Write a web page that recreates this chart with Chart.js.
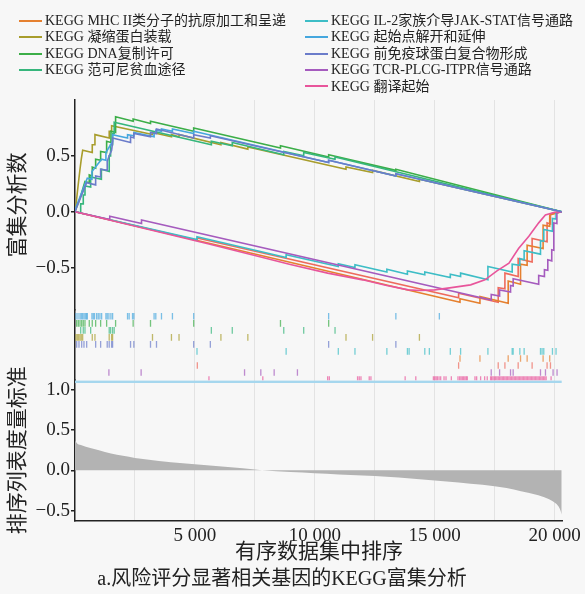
<!DOCTYPE html>
<html>
<head>
<meta charset="utf-8" />
<title>KEGG GSEA</title>
<script src="https://cdn.jsdelivr.net/npm/chart.js@4.4.1/dist/chart.umd.min.js"></script>
<style>
  body { margin: 0; background: #f7f7f7; }
  #wrap { position: relative; width: 585px; height: 594px; }
  #legend {
    position: absolute; left: 0; top: 0; width: 585px; height: 100px;
    font-family: 'Liberation Serif', 'Noto Sans CJK SC', serif;
    font-size: 14px; color: #222;
  }
  .item { position: absolute; white-space: nowrap; line-height: 16px; }
  .item i {
    display: inline-block; width: 23px; height: 0; border-top: 2px solid;
    vertical-align: middle; margin-right: 3px; margin-top: -2px;
  }
</style>
</head>
<body>
<div id="wrap">
  <canvas id="gsea" width="585" height="594"></canvas>
  <div id="legend"></div>
</div>

<script>
// gene sets, in legend order (left column first)
var setNames = [
  "KEGG MHC II类分子的抗原加工和呈递",
  "KEGG 凝缩蛋白装载",
  "KEGG DNA复制许可",
  "KEGG 范可尼贫血途径",
  "KEGG IL-2家族介导JAK-STAT信号通路",
  "KEGG 起始点解开和延伸",
  "KEGG 前免疫球蛋白复合物形成",
  "KEGG TCR-PLCG-ITPR信号通路",
  "KEGG 翻译起始"
];
var setColors = ["#e5802f", "#a89d2c", "#3cae48", "#36b67c", "#3dbdc6",
                 "#45a7de", "#6b7cca", "#a55bbe", "#e8559b"];
// one more curve is drawn in the figure but has no legend entry
var extraColor = "#ee6a5c";

// running enrichment score, [rank, ES]
var esMhc = [[0,0],[16058,-0.81],[16058,-0.78],[16890,-0.82],[16890,-0.76],[18068,-0.82],[18068,-0.62],
  [18583,-0.65],[18583,-0.47],[18858,-0.48],[18858,-0.3],[19524,-0.33],[19524,-0.12],[19800,-0.13],
  [19800,-0.03],[20300,0]];
var esCondensin = [[0,0],[42,0.06],[96,0.17],[154,0.28],[208,0.38],[262,0.47],[320,0.55],[720,0.53],
  [720,0.6],[832,0.6],[832,0.69],[1427,0.66],[1427,0.72],[1527,0.72],[1527,0.77],[3232,0.69],[3232,0.71],
  [4023,0.67],[4023,0.69],[4339,0.67],[4339,0.69],[6086,0.6],[6086,0.62],[7209,0.56],[7209,0.58],
  [11303,0.38],[11303,0.4],[12412,0.35],[12412,0.37],[14365,0.27],[14365,0.29],[20300,0]];
var esDna = [[0,0],[70,0.04],[139,0.08],[208,0.12],[279,0.17],[345,0.22],[416,0.27],[595,0.26],[595,0.33],
  [720,0.32],[720,0.4],[861,0.39],[861,0.47],[1069,0.46],[1069,0.54],[1319,0.53],[1319,0.63],[1500,0.62],
  [1500,0.72],[1693,0.71],[1693,0.85],[2425,0.81],[2425,0.83],[3149,0.79],[3149,0.81],[4950,0.72],
  [4950,0.75],[8570,0.57],[8570,0.59],[10580,0.49],[10580,0.51],[13380,0.37],[13380,0.38],[20300,0]];
var esFanconi = [[0,0],[237,-0.01],[237,0.07],[345,0.07],[345,0.15],[416,0.15],[416,0.23],[653,0.22],
  [653,0.31],[1100,0.29],[1100,0.38],[1427,0.36],[1427,0.5],[1485,0.5],[1485,0.6],[1568,0.6],[1568,0.7],
  [1635,0.7],[1635,0.8],[5687,0.6],[5687,0.63],[6560,0.59],[6560,0.62],[8707,0.51],[8707,0.54],
  [9539,0.5],[9539,0.53],[10846,0.47],[10846,0.49],[20300,0]];
var esIl2 = [[0,0],[5088,-0.25],[5088,-0.225],[8806,-0.41],[8806,-0.385],[10982,-0.49],[10982,-0.465],
  [11677,-0.5],[11677,-0.475],[13008,-0.54],[13008,-0.515],[13865,-0.56],[13865,-0.53],[14589,-0.565],
  [14589,-0.54],[15654,-0.59],[15654,-0.56],[16083,-0.58],[16083,-0.55],[17222,-0.61],[17222,-0.49],
  [18234,-0.54],[18234,-0.47],[18554,-0.48],[18554,-0.42],[18733,-0.43],[18733,-0.35],[19415,-0.38],
  [19415,-0.26],[19552,-0.265],[19552,-0.16],[19914,-0.175],[19914,-0.06],[20064,-0.065],[20064,-0.01],
  [20300,0]];
var esOrigin = [[0,0],[42,0.04],[512,0.3],[707,0.29],[707,0.36],[1111,0.47],[1290,0.46],[1290,0.53],
  [1568,0.63],[1568,0.69],[2192,0.66],[2192,0.69],[2454,0.68],[2454,0.71],[3299,0.67],[3299,0.7],
  [3370,0.7],[3370,0.73],[3607,0.72],[3607,0.74],[4064,0.72],[4064,0.74],[4950,0.7],[4950,0.72],
  [10579,0.44],[10579,0.46],[13383,0.32],[13383,0.34],[15197,0.25],[20300,0]];
var esPreBcr = [[0,0],[70,0.04],[166,0.09],[279,0.15],[374,0.2],[487,0.26],[861,0.24],[861,0.32],
  [1069,0.31],[1069,0.38],[1344,0.37],[1344,0.45],[1427,0.5],[1527,0.55],[1568,0.62],[1568,0.66],
  [2317,0.62],[2317,0.67],[2454,0.66],[2454,0.7],[3149,0.67],[3149,0.71],[3399,0.7],[3399,0.74],
  [4950,0.66],[4950,0.69],[5645,0.66],[5645,0.68],[10579,0.44],[10579,0.46],[13383,0.32],[13383,0.34],
  [20300,0]];
var esTcr = [[0,0],[1450,-0.07],[1450,-0.04],[2775,-0.105],[2775,-0.075],[17360,-0.79],[17360,-0.74],
  [17709,-0.755],[17709,-0.7],[18166,-0.72],[18166,-0.66],[18275,-0.665],[18275,-0.6],[19340,-0.65],
  [19340,-0.57],[19580,-0.58],[19580,-0.52],[19720,-0.525],[19720,-0.43],[19885,-0.44],[19885,-0.34],
  [19970,-0.345],[19970,-0.1],[20100,-0.105],[20100,-0.01],[20300,0]];
var esTransl = [[0,0],[5587,-0.29],[7833,-0.41],[8940,-0.47],[10538,-0.55],[12000,-0.61],[13000,-0.66],
  [13900,-0.7],[14400,-0.705],[15000,-0.7],[15700,-0.68],[16500,-0.655],[17100,-0.61],[17600,-0.53],
  [18100,-0.46],[18500,-0.33],[18930,-0.22],[19340,-0.1],[19620,-0.03],[20000,-0.005],[20300,0]];
var esExtra = [[0,0],[5102,-0.255],[5102,-0.235],[16000,-0.77],[16000,-0.73],[17652,-0.81],[17652,-0.68],
  [17931,-0.69],[17931,-0.55],[18484,-0.58],[18484,-0.42],[19066,-0.45],[19066,-0.24],[19690,-0.27],
  [19690,-0.1],[19831,-0.11],[19831,-0.02],[20300,0]];

// ranks of the genes of each set (hit marks)
var hitsMhc = [16058,16890,18068,18583,18858,19524,19800];
var hitsCondensin = [42,96,154,208,262,320,720,832,1427,1527,1568,3232,4023,4339,6086,7209,11303,12412,14365];
var hitsDna = [70,139,208,279,345,416,595,720,861,1069,1319,1693,2425,3149,4950,8570,10580];
var hitsFanconi = [237,345,416,653,1427,1485,1568,1635,5687,6560,8707,9539,10846];
var hitsIl2 = [5088,8806,10982,11677,13008,13865,13936,14589,14780,15654,16083,17222,18234,18275,18554,
  18733,19415,19481,19552,19914,20064];
var hitsOrigin = [42,125,208,262,316,374,428,482,512,707,761,815,903,969,1040,1111,1290,1344,1414,1498,1568,
  2192,2259,2400,2454,3299,3370,3607,4064,4950,10579,13383,15197];
var hitsPreBcr = [70,166,279,374,487,861,1069,1344,1427,1527,1568,2317,2454,3149,3399,4950,5645,10579,13383];
var hitsTcr = [1414,2758,7072,7750,8307,9277,17360,17709,18166,18275,19415,19623,19940,20106];
var hitsTransl = [5587,7833,10538,10608,11786,11856,11927,12272,12343,13770,14214,14948,15003,15059,15114,
  15184,15253,15392,15475,15696,15974,16043,16099,16154,16210,16265,16320,16362,16682,16752,16918,17085,
  17194,17334,17376,17432,17488,17543,17598,17654,17709,17765,17820,17876,17931,17987,18042,18098,18153,
  18209,18264,18320,18375,18431,18486,18542,18597,18652,18708,18763,18819,18874,18930,18985,19041,19096,
  19152,19207,19263,19318,19374,19429,19485,19540,19596,19651,19857];
var hitsExtra = [5102,16000,17652,17931,18484,19066,19690,19831];

// which strip row each set's hits sit in (0 = top)
var hitRow = [6, 3, 1, 2, 5, 0, 4, 8, 9];
var extraRow = 7;

// ranked list metric, [rank, value]
var rankMetric = [[0,0.37],[100,0.33],[300,0.31],[600,0.28],[1000,0.25],[1500,0.21],[2000,0.18],
  [2500,0.155],[3000,0.135],[4000,0.1],[5000,0.075],[6000,0.05],[7000,0.025],[7800,0],[9000,-0.02],
  [10000,-0.035],[11000,-0.05],[12000,-0.065],[13000,-0.08],[14000,-0.1],[15000,-0.125],[16000,-0.15],
  [17000,-0.18],[18000,-0.22],[18600,-0.26],[19200,-0.3],[19700,-0.35],[20000,-0.4],[20170,-0.45],
  [20250,-0.5],[20300,-0.55]];
var baseBand = [[0,1.1],[20300,1.1]];

var xTicks = [2500,5000,7500,10000,12500,15000,17500,20000];
var esTicks = [-0.5, 0, 0.5];
var rankTicks = [-0.5, 0, 0.5, 1.0];

var esSeries = [esMhc, esCondensin, esDna, esFanconi, esIl2, esOrigin, esPreBcr, esTcr, esTransl];
var hitSeries = [hitsMhc, hitsCondensin, hitsDna, hitsFanconi, hitsIl2, hitsOrigin, hitsPreBcr, hitsTcr, hitsTransl];

var fontFam = "'Liberation Serif', 'Noto Sans CJK SC', serif";

function pts(arr) {
  return arr.map(function (p) { return { x: p[0], y: p[1] }; });
}
function hitPts(ranks, row) {
  return ranks.map(function (r) { return { x: r, y: row }; });
}
function fade(hex, a) {
  var n = parseInt(hex.slice(1), 16);
  return "rgba(" + (n >> 16) + "," + ((n >> 8) & 255) + "," + (n & 255) + "," + a + ")";
}
function fmtNum(v) {
  return v.toFixed(1).replace("-", "\u2212");
}

var datasets = [];

// ranked metric area
datasets.push({
  type: "line", data: pts(rankMetric), yAxisID: "rank", fill: "origin",
  backgroundColor: "#b3b3b3", borderWidth: 0, pointRadius: 0,
  cubicInterpolationMode: "monotone", order: 100
});
datasets.push({
  type: "line", data: pts(baseBand), yAxisID: "rank",
  borderColor: "#a6d7ee", borderWidth: 2.5, pointRadius: 0, order: 90
});

// hit marks
function addHits(ranks, row, color) {
  datasets.push({
    type: "scatter", data: hitPts(ranks, row), yAxisID: "hits",
    pointStyle: "line", rotation: 90, pointRadius: 3.3,
    borderColor: fade(color, 0.7), borderWidth: 1.3, order: 60
  });
}
hitSeries.forEach(function (h, i) { addHits(h, hitRow[i], setColors[i]); });
addHits(hitsExtra, extraRow, extraColor);

// enrichment score curves
function addCurve(arr, color, ord) {
  datasets.push({
    type: "line", data: pts(arr), yAxisID: "es",
    borderColor: color, borderWidth: 1.6, pointRadius: 0, fill: false, order: ord
  });
}
addCurve(esExtra, extraColor, 20);
esSeries.forEach(function (s, i) { addCurve(s, setColors[i], 19 - i); });
datasets[datasets.length - 3].order = 0; // 前免疫球蛋白 line on top

Chart.defaults.font.family = fontFam;
Chart.defaults.color = "#222";

var tickFont = { size: 19, family: fontFam };
var yTitle = function (txt) {
  return { display: true, text: txt, color: "#222",
           font: { size: 21, family: fontFam }, padding: { top: 6, bottom: 0 } };
};
var yGrid = { drawOnChartArea: false, drawTicks: true, tickLength: 4, color: "#222", lineWidth: 1.5 };
var yBorder = { display: true, color: "#222", width: 1.5 };
function fixWidth(s) { s.width = 75; }

new Chart(document.getElementById("gsea"), {
  type: "line",
  data: { datasets: datasets },
  options: {
    responsive: false,
    animation: false,
    events: [],
    layout: { padding: { left: 0, right: 21, top: 100, bottom: 0 } },
    plugins: {
      legend: { display: false },
      tooltip: { enabled: false },
      title: {
        display: true, position: "bottom",
        text: "a.风险评分显著相关基因的KEGG富集分析",
        color: "#222", font: { size: 20, weight: "normal", family: fontFam },
        padding: { top: 0, bottom: 2 }
      }
    },
    scales: {
      x: {
        type: "linear", min: 0, max: 20350,
        afterBuildTicks: function (s) { s.ticks = xTicks.map(function (v) { return { value: v }; }); },
        afterFit: function (s) { s.height = 47.5; },
        ticks: {
          font: tickFont, color: "#222", padding: 4, maxRotation: 0, autoSkip: false,
          callback: function (v) {
            return v % 5000 === 0 ? String(v).replace(/\B(?=(\d{3})+(?!\d))/g, " ") : "";
          }
        },
        grid: { color: "#e3e3e3", lineWidth: 1, drawTicks: false },
        border: { display: true, color: "#222", width: 1.5 },
        title: { display: true, text: "有序数据集中排序", color: "#222",
                 font: { size: 21, family: fontFam }, padding: { top: 0, bottom: 3 } }
      },
      es: {
        type: "linear", position: "left", stack: "gsea", stackWeight: 210.6, weight: 3,
        min: -0.88, max: 1.0,
        afterBuildTicks: function (s) { s.ticks = esTicks.map(function (v) { return { value: v }; }); },
        afterFit: fixWidth,
        ticks: { font: tickFont, color: "#222", padding: 1, callback: fmtNum },
        grid: yGrid, border: yBorder,
        title: yTitle("富集分析数")
      },
      hits: {
        type: "linear", position: "left", stack: "gsea", stackWeight: 70.4, weight: 2,
        min: -0.9, max: 9.1, reverse: true,
        afterFit: fixWidth,
        ticks: { display: false },
        grid: { display: false },
        border: yBorder
      },
      rank: {
        type: "linear", position: "left", stack: "gsea", stackWeight: 140.7, weight: 1,
        min: -0.623, max: 1.12,
        afterBuildTicks: function (s) { s.ticks = rankTicks.map(function (v) { return { value: v }; }); },
        afterFit: fixWidth,
        ticks: { font: tickFont, color: "#222", padding: 1, callback: fmtNum },
        grid: yGrid, border: yBorder,
        title: yTitle("排序列表度量标准")
      }
    }
  }
});

// two-column legend above the plot, built from the same name / colour lists
var legendBox = document.getElementById("legend");
setNames.forEach(function (name, i) {
  var col = i < 4 ? 0 : 1;
  var row = i < 4 ? i : i - 4;
  var el = document.createElement("div");
  el.className = "item";
  el.style.left = (col ? 305 : 19) + "px";
  el.style.top = (13 + row * 16.4) + "px";
  el.innerHTML = '<i style="border-color:' + setColors[i] + '"></i>' + name;
  legendBox.appendChild(el);
});
</script>
</body>
</html>
